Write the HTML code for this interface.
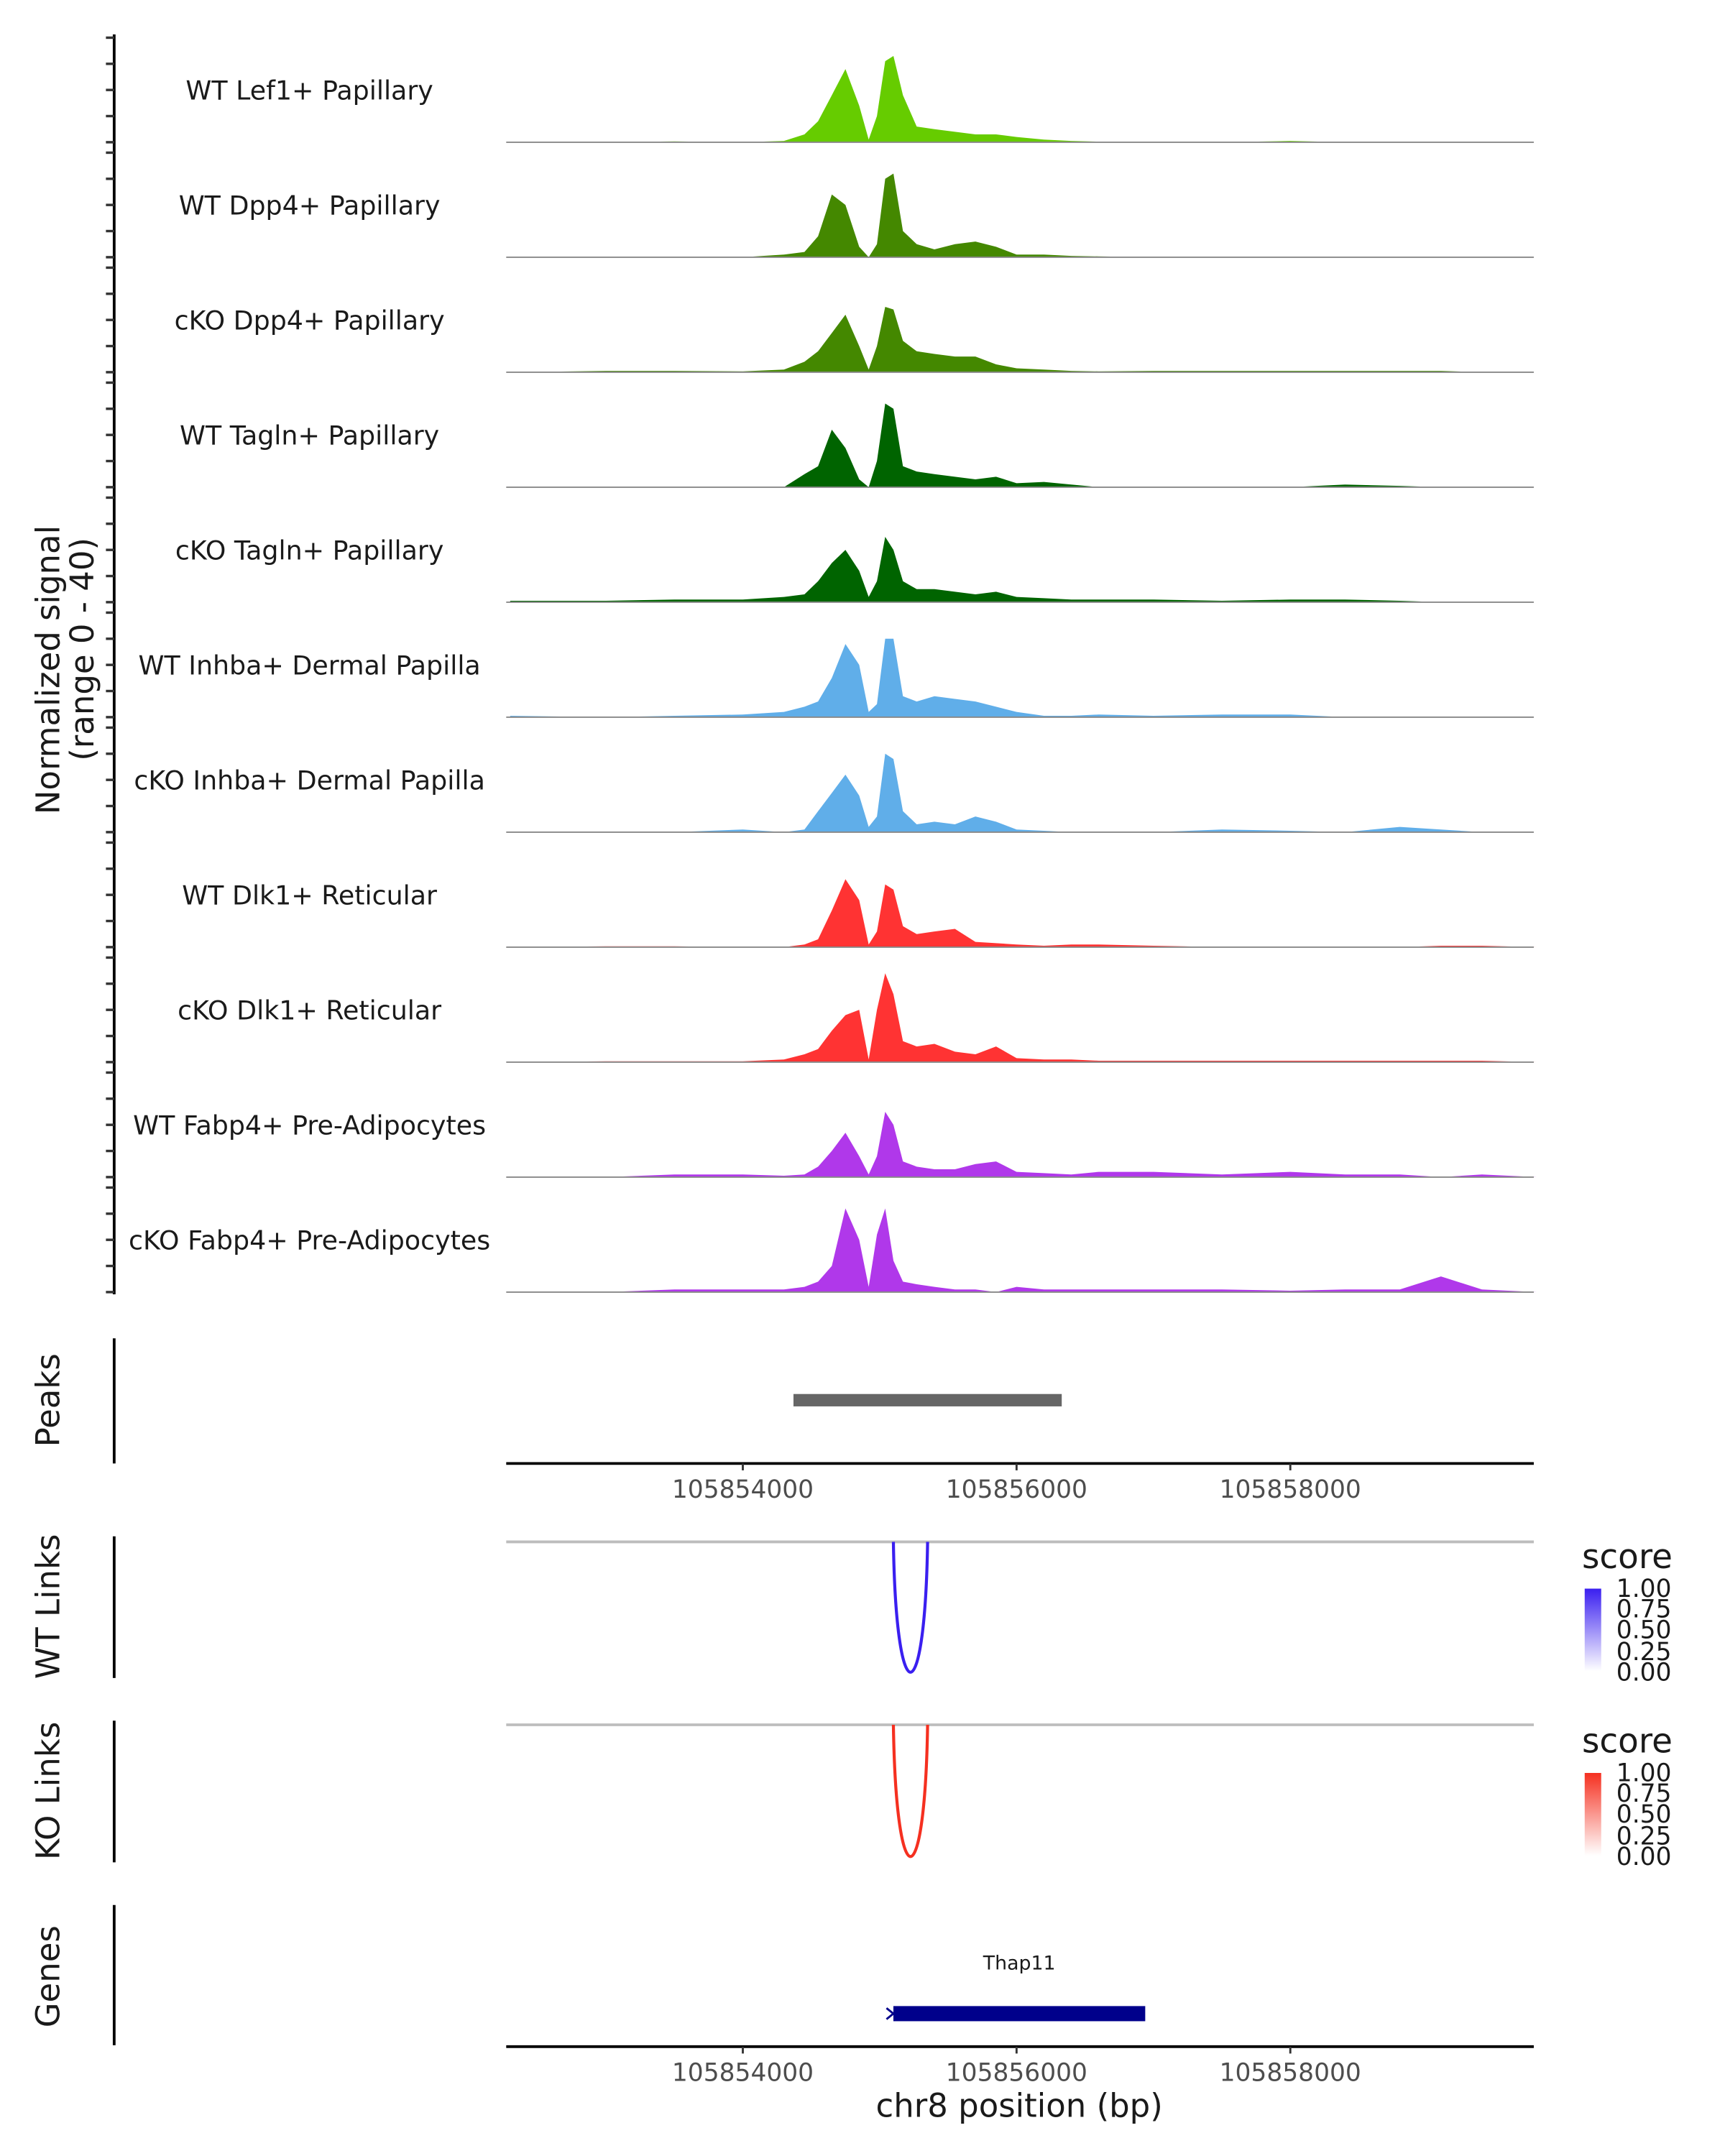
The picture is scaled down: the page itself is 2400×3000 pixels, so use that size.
<!DOCTYPE html>
<html><head><meta charset="utf-8"><style>
html,body{margin:0;padding:0;background:#fff}
svg{display:block}
text{font-family:"DejaVu Sans","Liberation Sans",sans-serif;fill:#1a1a1a}
</style></head><body>
<svg id="chart" xmlns="http://www.w3.org/2000/svg" width="2400" height="3000" viewBox="0 0 1254 1567.5">
<rect width="1254" height="1567.5" fill="#fff"/>
<g id="tracks"></g>
<g id="leftaxis"></g>
<text transform="translate(43,487) rotate(-90)" text-anchor="middle" font-size="23.5">Normalized signal</text>
<text transform="translate(68,472) rotate(-90)" text-anchor="middle" font-size="23.5">(range 0 - 40)</text>

<line x1="83" y1="973" x2="83" y2="1064" stroke="#000" stroke-width="2"/>
<text transform="translate(43,1018) rotate(-90)" text-anchor="middle" font-size="23.5">Peaks</text>
<g id="peaks"></g>
<g id="xaxis1"></g>

<line x1="83" y1="1117" x2="83" y2="1220" stroke="#000" stroke-width="2"/>
<text transform="translate(43,1168) rotate(-90)" text-anchor="middle" font-size="23.5">WT Links</text>
<line x1="368" y1="1121" x2="1115" y2="1121" stroke="#bdbdbd" stroke-width="2"/>
<g id="wtlinks"></g>

<line x1="83" y1="1251" x2="83" y2="1354" stroke="#000" stroke-width="2"/>
<text transform="translate(43,1302) rotate(-90)" text-anchor="middle" font-size="23.5">KO Links</text>
<line x1="368" y1="1254" x2="1115" y2="1254" stroke="#bdbdbd" stroke-width="2"/>
<g id="kolinks"></g>

<defs>
<linearGradient id="gb" x1="0" y1="1" x2="0" y2="0"><stop offset="0" stop-color="#fff"/><stop offset="1" stop-color="#3a1ff0"/></linearGradient>
<linearGradient id="gr" x1="0" y1="1" x2="0" y2="0"><stop offset="0" stop-color="#fff"/><stop offset="1" stop-color="#f53020"/></linearGradient>
</defs>
<g>
<text x="1150" y="1140" font-size="24.5">score</text>
<rect x="1152" y="1155" width="12" height="60" fill="url(#gb)"/>
<g font-size="18"><text x="1175" y="1161">1.00</text><text x="1175" y="1176">0.75</text><text x="1175" y="1191">0.50</text><text x="1175" y="1207">0.25</text><text x="1175" y="1222">0.00</text></g>
</g>
<g>
<text x="1150" y="1274" font-size="24.5">score</text>
<rect x="1152" y="1289" width="12" height="60" fill="url(#gr)"/>
<g font-size="18"><text x="1175" y="1295">1.00</text><text x="1175" y="1310">0.75</text><text x="1175" y="1325">0.50</text><text x="1175" y="1341">0.25</text><text x="1175" y="1356">0.00</text></g>
</g>

<line x1="83" y1="1385" x2="83" y2="1487" stroke="#000" stroke-width="2"/>
<text transform="translate(43,1437) rotate(-90)" text-anchor="middle" font-size="23.5">Genes</text>
<g id="genes"></g>
<g id="xaxis2"></g>
<text x="741" y="1539" text-anchor="middle" font-size="23.5">chr8 position (bp)</text>
</svg>
<script>
const positions = [105852.3,105853.0,105853.5,105854.0,105854.3,105854.45,105854.55,105854.65,105854.75,105854.85,105854.92,105854.98,105855.04,105855.1,105855.17,105855.27,105855.4,105855.55,105855.7,105855.85,105856.0,105856.2,105856.4,105856.6,105857.0,105857.5,105858.0,105858.4,105858.8,105859.1,105859.4,105859.8];
const trackNames = ["WT Lef1+ Papillary","WT Dpp4+ Papillary","cKO Dpp4+ Papillary","WT Tagln+ Papillary","cKO Tagln+ Papillary","WT Inhba+ Dermal Papilla","cKO Inhba+ Dermal Papilla","WT Dlk1+ Reticular","cKO Dlk1+ Reticular","WT Fabp4+ Pre-Adipocytes","cKO Fabp4+ Pre-Adipocytes"];
const trackColors = ["#66cc00","#448800","#448800","#006400","#006400","#60aee9","#60aee9","#ff3333","#ff3333","#b038ea","#b038ea"];
const sigLef1WT = [0,0,0.3,0,0.5,3,8,18,28,14,1,10,31,33,18,6,5,4,3,3,2,1,0.5,0.2,0,0,0.5,0,0,0,0,0];
const sigDpp4WT = [0,0,0,0,1,2,8,24,20,4,0,5,30,32,10,5,3,5,6,4,1,1,0.5,0.3,0,0,0,0,0,0,0,0];
const sigDpp4KO = [0,0.5,0.5,0.3,1,4,8,15,22,10,1,10,25,24,12,8,7,6,6,3,1.5,1,0.5,0.3,0.5,0.5,0.5,0.5,0.5,0.5,0,0];
const sigTaglnWT = [0,0,0,0,0,5,8,22,15,3,0,10,32,30,8,6,5,4,3,4,1.5,2,1,0,0,0,0,1,0.5,0,0,0];
const sigTaglnKO = [0.5,0.5,1,1,2,3,8,15,20,12,2,8,25,20,8,5,5,4,3,4,2,1.5,1,1,1,0.5,1,1,0.5,0,0,0];
const sigInhbaWT = [0.5,0,0.5,1,2,4,6,15,28,20,2,5,30,30,8,6,8,7,6,4,2,0.5,0.5,1,0.5,1,1,0,0,0,0,0];
const sigInhbaKO = [0,0,0,1,0,1,8,15,22,14,2,6,30,28,8,3,4,3,6,4,1,0.5,0,0,0,1,0.5,0,2,1,0,0];
const sigDlk1WT = [0,0.3,0.3,0,0,1,3,14,26,18,1,6,24,22,8,5,6,7,2,1.5,1,0.5,1,1,0.5,0,0,0,0,0.5,0.5,0];
const sigDlk1KO = [0,0.3,0.3,0.3,1,3,5,12,18,20,1,20,34,26,8,6,7,4,3,6,1.5,1,1,0.5,0.5,0.5,0.5,0.5,0.5,0.5,0.5,0];
const sigFabp4WT = [0,0,1,1,0.5,1,4,10,17,8,1,8,25,20,6,4,3,3,5,6,2,1.5,1,2,2,1,2,1,1,0,1,0];
const sigFabp4KO = [0,0,1,1,1,2,4,10,32,20,2,22,32,12,4,3,2,1,1,0,2,1,1,1,1,1,0.5,1,1,6,1,0];
const signals = [sigLef1WT,sigDpp4WT,sigDpp4KO,sigTaglnWT,sigTaglnKO,sigInhbaWT,sigInhbaKO,sigDlk1WT,sigDlk1KO,sigFabp4WT,sigFabp4KO];
const xTicks = [105854000,105856000,105858000];
const peakRanges = [[105854.37,105856.33]];
const wtLinks = [[105855.10,105855.35,1.0]];
const koLinks = [[105855.10,105855.35,1.0]];
const genes = [["Thap11",105855.10,105856.94]];

const NS="http://www.w3.org/2000/svg";
function mk(tag,attrs,parent){const e=document.createElementNS(NS,tag);for(const k in attrs)e.setAttribute(k,attrs[k]);parent.appendChild(e);return e;}
const X0=368,X1=1115;
function xScale(kb){return 540+(kb-105854)*99.5;}
const yMax=40, trackH=76;
function baseY(i){return 103.4+i*83.6;}
function yScale(i,v){return baseY(i)-Math.min(v,yMax)/yMax*trackH;}

const tg=document.getElementById('tracks');
const ax=document.getElementById('leftaxis');
const axl=mk('line',{x1:83,y1:25,x2:83,y2:941,stroke:'#000','stroke-width':2},ax);


signals.forEach((s,i)=>{
  const g=mk('g',{},tg);
  
  
  let d='M'+xScale(positions[0])+','+baseY(i);
  s.forEach((v,j)=>{d+=' L'+xScale(positions[j]).toFixed(1)+','+yScale(i,v).toFixed(1);});
  d+=' L'+xScale(positions[positions.length-1])+','+baseY(i)+' Z';
  const p=mk('path',{d:d,fill:trackColors[i]},g);
  
  
  const bl=mk('line',{x1:X0,y1:baseY(i),x2:X1,y2:baseY(i),stroke:'#888','stroke-width':1},g);
  
  
  const t=mk('text',{x:225,y:baseY(i)-31,'text-anchor':'middle','font-size':19},g);
  t.textContent=trackNames[i];
  
  
  for(let k=0;k<=4;k++){
    const ty=yScale(i,k*10);
    const tk=mk('line',{x1:77,y1:ty,x2:83,y2:ty,stroke:'#333','stroke-width':1.8},ax);
    
    
  }
});

const pk=document.getElementById('peaks');
peakRanges.forEach(r=>{
  const b=mk('rect',{x:xScale(r[0]),y:1013.5,width:xScale(r[1])-xScale(r[0]),height:9,fill:'#666'},pk);
  
  
});

function drawAxis(id,y,ly){
  const g=document.getElementById(id);
  const l=mk('line',{x1:X0,y1:y,x2:X1,y2:y,stroke:'#000','stroke-width':2},g);
  
  
  xTicks.forEach(t=>{
    const x=xScale(t/1000);
    const tk=mk('line',{x1:x,y1:y,x2:x,y2:y+5,stroke:'#333','stroke-width':1.5},g);
    
    
    const tx=mk('text',{x:x,y:ly,'text-anchor':'middle','font-size':18},g);
    tx.setAttribute('style','fill:#4d4d4d');
    tx.textContent=String(t);
    
    
  });
}
drawAxis('xaxis1',1064,1089);
drawAxis('xaxis2',1488,1513);

function drawLinks(id,data,top,bottom,color){
  const g=document.getElementById(id);
  data.forEach(l=>{
    const a=xScale(l[0]),b=xScale(l[1]);
    const depth=(bottom-top)*l[2];
    const d='M'+a+','+top+' C'+(a+2)+','+(top+depth*1.33)+' '+(b-2)+','+(top+depth*1.33)+' '+b+','+top;
    const p=mk('path',{d:d,fill:'none',stroke:color,'stroke-width':2.2},g);
    
    
  });
}
drawLinks('wtlinks',wtLinks,1121,1216,'#3a1ff0');
drawLinks('kolinks',koLinks,1254,1350,'#f53020');

const gg=document.getElementById('genes');
genes.forEach(gn=>{
  const a=xScale(gn[1]),b=xScale(gn[2]);
  const r=mk('rect',{x:a,y:1458.5,width:b-a,height:11,fill:'#00008b'},gg);
  
  
  const ar=mk('path',{d:'M'+(a-5)+',1460 L'+a+',1464 L'+(a-5)+',1468',fill:'none',stroke:'#00008b','stroke-width':1.5},gg);
  
  
  const t=mk('text',{x:(a+b)/2,y:1432,'text-anchor':'middle','font-size':14},gg);
  t.textContent=gn[0];
  
  
});
</script>
</body></html>
